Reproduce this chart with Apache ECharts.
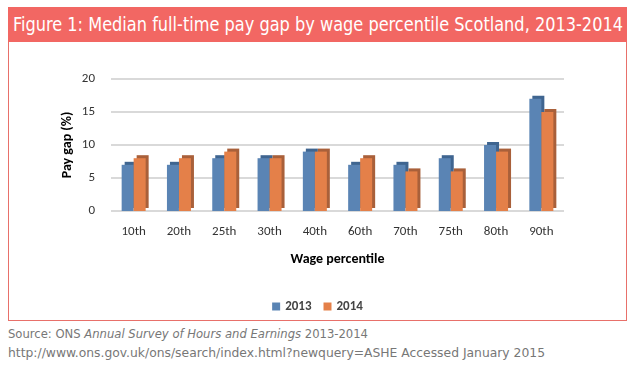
<!DOCTYPE html>
<html><head><meta charset="utf-8">
<script src="https://cdn.jsdelivr.net/npm/echarts@6/dist/echarts.min.js"></script>
<style>
html,body{margin:0;padding:0;background:#fff;width:633px;height:378px;overflow:hidden;}
#titlebar{position:absolute;left:8px;top:7px;width:619px;height:35px;background:#F26763;box-sizing:border-box;overflow:hidden;}
#ttext{position:absolute;left:5px;top:0;color:#fff;font-family:"DejaVu Sans",sans-serif;font-stretch:condensed;font-size:19px;line-height:35px;white-space:nowrap;transform-origin:0 50%;}
#box{position:absolute;left:8px;top:42px;width:619px;height:279px;border:1px solid #E8706A;border-top:none;box-sizing:border-box;}
#chart{position:absolute;left:9px;top:42px;width:617px;height:278px;}
.src{position:absolute;left:8px;color:#777;font-family:"DejaVu Sans",sans-serif;font-stretch:condensed;font-size:13px;line-height:19px;white-space:nowrap;transform-origin:0 50%;}
</style></head>
<body>
<div id="titlebar"><span id="ttext">Figure 1: Median full-time pay gap by wage percentile Scotland, 2013-2014</span></div>
<div id="box"></div>
<div id="chart"></div>
<div class="src" id="s1" style="top:324px">Source: ONS <i>Annual Survey of Hours and Earnings</i> 2013-2014</div>
<div class="src" id="s2" style="top:343px">http://www.ons.gov.uk/ons/search/index.html?newquery=ASHE Accessed January 2015</div>
<script>
function fit(id, w){const el=document.getElementById(id);const r=el.getBoundingClientRect().width;el.style.transform='scaleX('+(w/r)+')';}
fit('ttext',610); fit('s1',360); fit('s2',537);

const categories = ['10th','20th','25th','30th','40th','60th','70th','75th','80th','90th'];
const series2013 = [7,7,8,8,9,7,7,8,10,17];
const series2014 = [8,8,9,8,9,8,6,6,9,15];
const yTicks = [0,5,10,15,20];

const chart = echarts.init(document.getElementById('chart'));
const font = 'Carlito, "Open Sans", "DejaVu Sans", sans-serif';
chart.setOption({
  animation:false,
  grid:{left:102, right:62, top:37, bottom:109},
  legend:{
    data:['2013','2014'], bottom:2, left:'center',
    itemWidth:8, itemHeight:8, itemGap:12, icon:'rect',
    textStyle:{fontFamily:font, fontSize:13, fontWeight:'bold', color:'#444'}
  },
  xAxis:{
    type:'category', data:categories,
    axisLine:{show:false}, axisTick:{show:false},
    axisLabel:{fontFamily:font, fontSize:13, color:'#333', margin:14},
    name:'Wage percentile', nameLocation:'middle', nameGap:41,
    nameTextStyle:{fontFamily:font, fontSize:14, fontWeight:'bold', color:'#000'}
  },
  yAxis:{
    type:'value', min:0, max:20, interval:5,
    axisLine:{show:false}, axisTick:{show:false},
    axisLabel:{fontFamily:font, fontSize:13, color:'#333', margin:16, padding:[6,0,0,0],
      formatter:v=>yTicks.includes(v)?String(v):''},
    splitLine:{lineStyle:{color:'#D9D9D9', width:2}},
    name:'Pay gap (%)', nameLocation:'middle', nameGap:37, nameMoveOverlap:false,
    nameTextStyle:{fontFamily:font, fontSize:14, fontWeight:'bold', color:'#000'}
  },
  series:[
    {name:'2013', type:'bar', data:series2013, barWidth:12, barGap:'0%',
     itemStyle:{color:'#5A84B4', shadowColor:'#3F6590', shadowOffsetX:3, shadowOffsetY:-3, shadowBlur:0}},
    {name:'2014', type:'bar', data:series2014, barWidth:12,
     itemStyle:{color:'#E48049', shadowColor:'#A9603A', shadowOffsetX:3, shadowOffsetY:-3, shadowBlur:0}}
  ]
});
</script>
</body></html>
